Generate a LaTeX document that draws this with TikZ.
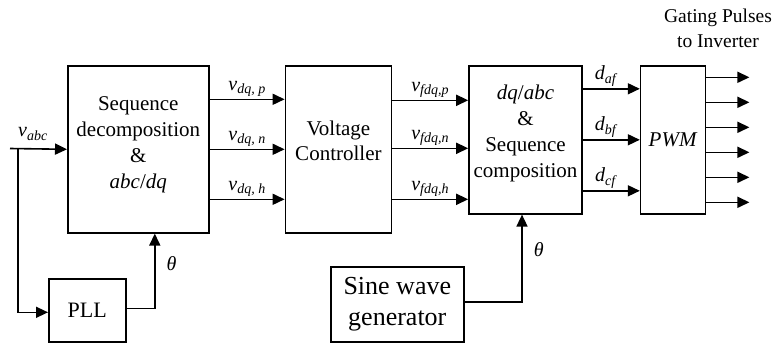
\documentclass[tikz,border=0pt]{standalone}
\usepackage{fontspec}
\setmainfont{Liberation Serif}
\usetikzlibrary{arrows.meta, positioning}
\newcommand{\vsub}[2]{\textit{#1}\textsubscript{\textit{#2}}}
\tikzset{
	blk/.style ={rectangle, draw=black, line width=1.6pt, align=center, inner sep=0pt, font=\fontsize{21}{26}\selectfont},
	txt/.style ={align=center, inner sep=0pt, font=\fontsize{21}{26}\selectfont},
	sig/.style ={-{Triangle[length=12pt, width=11pt]}, line width=1.6pt},
	lbl/.style ={font=\fontsize{20}{24}\selectfont, inner sep=2pt},
}

\begin{document}
\begin{tikzpicture}[x=1pt, y=-1pt]
	\useasboundingbox (0,0) rectangle (781,345);
	% main chain
	\node[blk, anchor=north west, minimum width=141pt, minimum height=167pt] (seq) at (67,65) {};
	\node[txt, yshift=5pt] (seqtxt) at (seq) {Sequence\\ decomposition\\ \&\\ \textit{abc}/\textit{dq}};
	\node[blk, right=75pt of seq, minimum width=106pt, minimum height=167pt] (vc) {};
	\node[txt, yshift=8pt, font=\fontsize{21}{25}\selectfont] (vctxt) at (vc) {Voltage\\ Controller};
	\node[blk, right=76pt of vc.north east, anchor=north west, minimum width=113pt, minimum height=148pt] (dq) {};
	\node[txt, yshift=6pt] (dqtxt) at (dq) {\textit{dq}/\textit{abc}\\ \&\\ Sequence\\ composition};
	\node[blk, right=57pt of dq, minimum width=65pt, minimum height=148pt] (pwm) {\textit{PWM}};
	% lower blocks
	\node[blk, anchor=north west, minimum width=77pt, minimum height=63pt, font=\fontsize{22}{26}\selectfont] (pll) at (48,278) {PLL};
	\node[blk, anchor=north west, minimum width=133pt, minimum height=75pt, font=\fontsize{26}{31}\selectfont] (sine) at (330,266) {Sine wave\\ generator};
	% input and angle paths
	\coordinate (in) at (10,148.5);
	\coordinate (br) at (18,148.5);
	\node[lbl] (vabc) at (33,134) {\vsub{v}{abc}};
	\draw[sig] (in) -- (seq.west);
	\draw[sig] (br) |- ([yshift=-2pt]pll.west);
	\draw[sig] ([yshift=2pt]pll.east) -| node[lbl, pos=0.8, right=9pt] (thA) {\textit{θ}} ([xshift=16.5pt]seq.south);
	\draw[sig] ([yshift=2.5pt]sine.east) -| node[lbl, pos=0.8, right=9pt] (thB) {\textit{θ}} ([xshift=-3.5pt]dq.south);
	% signal buses
	\foreach \dy/\sub in {50/{dq, p}, 0/{dq, n}, -50/{dq, h}}
		\draw[sig] ([yshift=\dy pt]seq.east) -- node[lbl, above] {\vsub{v}{\sub}} ([yshift=\dy pt]seq.east -| vc.west);
	\foreach \dy/\sub in {49/{fdq,p}, 1/{fdq,n}, -50/{fdq,h}}
		\draw[sig] ([yshift=\dy pt]vc.east) -- node[lbl, above] {\vsub{v}{\sub}} ([yshift=\dy pt]vc.east -| dq.west);
	\foreach \dy/\sub in {51/{af}, 0/{bf}, -51/{cf}}
		\draw[sig] ([yshift=\dy pt]dq.east) -- node[lbl, above, xshift=-5pt] {\vsub{d}{\sub}} ([yshift=\dy pt]dq.east -| pwm.west);
	% gating outputs
	\foreach \i in {0,...,5}{
		\coordinate (g\i) at ([xshift=43pt, yshift=62.5pt-25pt*\i]pwm.east);
		\draw[sig] ([yshift=62.5pt-25pt*\i]pwm.east) -- (g\i);
	}
	\node[lbl, align=center, font=\fontsize{19.5}{25}\selectfont] (gate) at (718,28) {Gating Pulses\\ to Inverter};
\end{tikzpicture}
\end{document}
